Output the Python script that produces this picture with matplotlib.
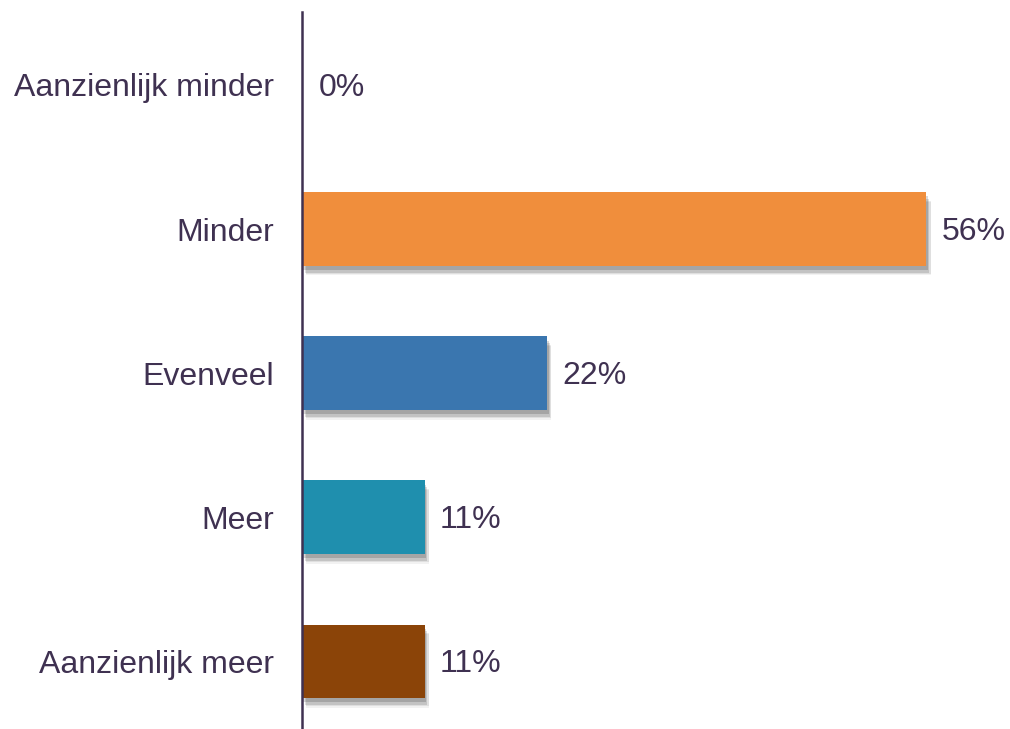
import matplotlib
matplotlib.use("Agg")
import matplotlib.pyplot as plt
import matplotlib.patheffects as pe

categories = ["Aanzienlijk minder", "Minder", "Evenveel", "Meer", "Aanzienlijk meer"]
values = [0, 56, 22, 11, 11]
labels = ["0%", "56%", "22%", "11%", "11%"]
colors = ["#F08E3C", "#F08E3C", "#3A76AF", "#1F8FAE", "#8B4408"]

text_color = "#3F3151"
plt.rcParams['font.family'] = ['Liberation Sans', 'DejaVu Sans']

fig = plt.figure(figsize=(10.10, 7.29), dpi=100)
ax = fig.add_axes([302/1010, 0, 708/1010, 717/729])

ypos = list(range(len(categories)))
shadow = [
    pe.SimplePatchShadow(offset=(3, -7), shadow_rgbFace="#000000", alpha=0.05),
    pe.SimplePatchShadow(offset=(3, -6), shadow_rgbFace="#000000", alpha=0.08),
    pe.SimplePatchShadow(offset=(2, -5), shadow_rgbFace="#000000", alpha=0.12),
    pe.SimplePatchShadow(offset=(1, -3), shadow_rgbFace="#000000", alpha=0.15),
    pe.Normal(),
]
bars = ax.barh(ypos, values, height=0.51, color=colors, zorder=2)
for b, v in zip(bars, values):
    if v > 0:
        b.set_path_effects(shadow)

for y, v, lab in zip(ypos, values, labels):
    ax.annotate(lab, (v, y), xytext=(11 if v > 0 else 12, -2), textcoords="offset points",
                va="center", ha="left", fontsize=23, color=text_color)

ax.set_xlim(0, 63.5)
ax.set_ylim(4.47, -0.506)
ax.set_yticks(ypos)
ax.set_yticklabels(categories, fontsize=23, color=text_color)
ax.tick_params(axis="y", length=0, pad=20)
ax.set_xticks([])
for s in ["top", "right", "bottom"]:
    ax.spines[s].set_visible(False)
ax.spines["left"].set_color(text_color)
ax.spines["left"].set_linewidth(1.8)
ax.spines["left"].set_zorder(3)

fig.savefig("out.png", dpi=100)
